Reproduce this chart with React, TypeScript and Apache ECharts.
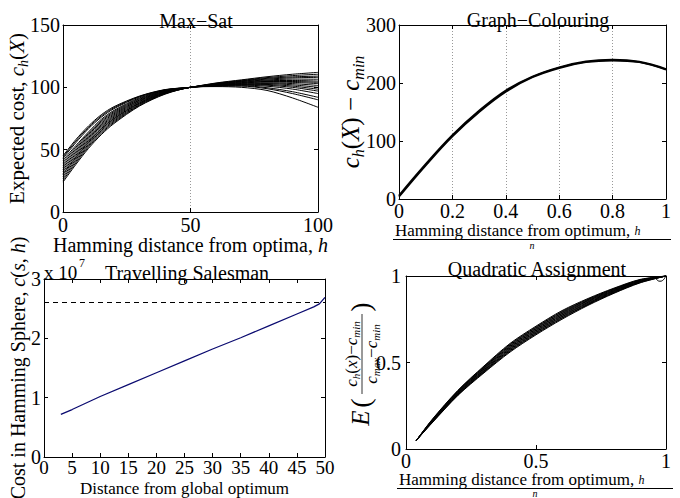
import React, { useEffect, useRef } from 'react';
import * as echarts from 'echarts';

const SERIF = '"Liberation Serif", "Times New Roman", serif';

// ---------- Max-Sat ----------
const maxSatH = [0, 5, 10, 15, 20, 30, 40, 50, 60, 70, 80, 90, 100];
const maxSatCurves = [
  [24, 38, 51, 62, 71, 85, 94.5, 100, 101.1, 101.3, 99.7, 96.5, 92],
  [25.5, 39.3, 52.2, 63.1, 71.9, 85.5, 94.8, 100, 102.6, 104.6, 105.9, 106.6, 106.5],
  [27, 40.6, 53.3, 64.1, 72.8, 86, 95.1, 100, 101.6, 102.7, 103, 102, 100],
  [28.5, 41.9, 54.4, 65.2, 73.7, 86.6, 95.3, 100, 103.2, 105.6, 107.8, 109.4, 110.5],
  [30, 43.2, 55.6, 66.3, 74.6, 87.2, 95.6, 100, 101.4, 102.1, 101.7, 100, 97],
  [31, 44.1, 56.3, 66.9, 75.2, 87.5, 95.8, 100, 102.2, 103.8, 104.7, 104.7, 104],
  [32.5, 45.4, 57.4, 68, 76.1, 88.1, 96.1, 100, 100.6, 100, 97.5, 91.5, 84],
  [34, 46.7, 58.6, 69, 77, 88.7, 96.3, 100, 102.8, 104.9, 106.6, 107.6, 108],
  [35.5, 48, 59.7, 70, 77.9, 89.3, 96.6, 100, 101.8, 103.1, 103.5, 103, 101.5],
  [37, 49.3, 60.8, 71.1, 78.8, 89.8, 96.9, 100, 101.3, 101.8, 100.9, 98.6, 95],
  [38.5, 50.6, 62, 72.2, 79.7, 90.4, 97.1, 100, 103.5, 106, 108.5, 110.5, 112],
  [40, 51.9, 63.1, 73.2, 80.6, 91, 97.4, 100, 102, 103.5, 104.2, 104, 103],
  [41.5, 53.2, 64.2, 74.3, 81.5, 91.6, 97.6, 100, 101, 101, 98.9, 95, 90],
  [43, 55.5, 66.8, 76, 82.9, 92.3, 97.9, 100, 103, 105.2, 107.2, 108.4, 109],
  [44, 56.8, 67.9, 77, 83.7, 92.7, 98, 100, 101.5, 102.4, 102.3, 101, 98.5],
  [45, 58, 69, 78, 84.5, 93, 98.2, 100, 102.4, 104.2, 105.3, 105.5, 105],
];

// ---------- Graph-Colouring ----------
const gcX = [0, 0.1, 0.2, 0.3, 0.4, 0.5, 0.6, 0.7, 0.8, 0.9, 1.0];
const gcCurveA = [4, 58, 108, 150, 185, 210, 226, 236, 239, 236, 223];
const gcCurveB = [6, 60, 110, 152, 187, 211, 227, 237, 240, 236.5, 224];

// ---------- Travelling Salesman ----------
const tspDistance = [3, 5, 10, 15, 20, 25, 30, 35, 40, 45, 48, 49, 50];
const tspCost = [0.72e7, 0.8e7, 1.02e7, 1.22e7, 1.42e7, 1.62e7, 1.82e7, 2.01e7, 2.21e7, 2.41e7, 2.53e7, 2.58e7, 2.69e7];
const tspReference = 2.6e7;

// ---------- Quadratic Assignment ----------
const qapX = [0.04, 0.1, 0.2, 0.3, 0.4, 0.5, 0.6, 0.7, 0.8, 0.9, 1.0];
const qapCurves = [
  [0.05, 0.15, 0.31, 0.44, 0.56, 0.66, 0.75, 0.83, 0.9, 0.96, 1.0],
  [0.05, 0.152, 0.313, 0.444, 0.565, 0.665, 0.755, 0.834, 0.903, 0.962, 1.0],
  [0.05, 0.154, 0.315, 0.447, 0.569, 0.669, 0.759, 0.837, 0.905, 0.964, 1.0],
  [0.05, 0.155, 0.318, 0.451, 0.574, 0.674, 0.764, 0.841, 0.908, 0.965, 1.0],
  [0.05, 0.157, 0.321, 0.454, 0.578, 0.678, 0.768, 0.844, 0.911, 0.967, 1.0],
  [0.05, 0.159, 0.324, 0.458, 0.583, 0.683, 0.773, 0.848, 0.914, 0.969, 1.0],
  [0.05, 0.161, 0.326, 0.462, 0.587, 0.687, 0.777, 0.852, 0.916, 0.971, 1.0],
  [0.05, 0.163, 0.329, 0.466, 0.592, 0.692, 0.782, 0.856, 0.919, 0.973, 1.0],
  [0.05, 0.165, 0.332, 0.469, 0.596, 0.696, 0.786, 0.859, 0.922, 0.975, 1.0],
  [0.05, 0.166, 0.335, 0.473, 0.601, 0.701, 0.791, 0.863, 0.925, 0.976, 1.0],
  [0.05, 0.168, 0.337, 0.476, 0.605, 0.705, 0.795, 0.866, 0.927, 0.978, 1.0],
  [0.05, 0.17, 0.34, 0.48, 0.61, 0.71, 0.8, 0.87, 0.93, 0.98, 1.0],
];
const qapLoopX = [0.955, 0.965, 0.977, 0.99, 0.998];
const qapLoopY = [1.0, 0.978, 0.97, 0.978, 0.998];

const TICK_FONT = 20;
const fmtNum = (v: number) => String(Number(v.toFixed(2)));

const tickLabel = (formatter?: (v: number) => string, margin = 3, size = TICK_FONT) => ({
  color: '#000',
  fontFamily: SERIF,
  fontSize: size,
  lineHeight: size,
  margin,
  showMinLabel: true,
  showMaxLabel: true,
  formatter: formatter || fmtNum,
});

const baseAxis = {
  type: 'value' as const,
  nameMoveOverlap: false,
  axisLine: { show: true, onZero: false, lineStyle: { color: '#000', width: 1 } },
  axisTick: { show: true, inside: true, length: 4, lineStyle: { color: '#000', width: 1 } },
};

function xAxes(gridIndex: number, min: number, max: number, interval: number, extra: any = {}, split = false) {
  return [
    {
      ...baseAxis,
      gridIndex,
      position: 'bottom',
      min,
      max,
      interval,
      axisLabel: tickLabel(extra.formatter, extra.margin ?? 3, extra.size ?? TICK_FONT),
      splitLine: split
        ? { show: true, lineStyle: { color: '#999', type: [1, 2], width: 1 } }
        : { show: false },
      ...extra.axis,
    },
    {
      ...baseAxis,
      gridIndex,
      position: 'top',
      min,
      max,
      interval,
      axisLabel: { show: false },
      splitLine: { show: false },
    },
  ];
}

function yAxes(gridIndex: number, min: number, max: number, interval: number, extra: any = {}) {
  return [
    {
      ...baseAxis,
      gridIndex,
      position: 'left',
      min,
      max,
      interval,
      axisLabel: tickLabel(extra.formatter, extra.margin ?? 3),
      splitLine: { show: false },
      ...extra.axis,
    },
    {
      ...baseAxis,
      gridIndex,
      position: 'right',
      min,
      max,
      interval,
      axisLabel: { show: false },
      splitLine: { show: false },
    },
  ];
}

// rich styles: main text and a subscript that sits at the bottom of the line box
const richBase = (size: number, sub: number, lh = size + 3) => ({
  t: { fontFamily: SERIF, fontSize: size, lineHeight: lh, verticalAlign: 'top', color: '#000' },
  i: { fontFamily: SERIF, fontSize: size, lineHeight: lh, verticalAlign: 'top', fontStyle: 'italic', color: '#000' },
  s: {
    fontFamily: SERIF,
    fontSize: sub,
    lineHeight: sub,
    verticalAlign: 'top',
    fontStyle: 'italic',
    color: '#000',
    padding: [Math.max(0, lh - sub), 0, 0, 0],
  },
});

const lineSeries = (x: number[], y: number[], axisIdx: number, color = '#000', width = 1, smooth: number | boolean = 0.3) => ({
  type: 'line',
  xAxisIndex: axisIdx,
  yAxisIndex: axisIdx,
  data: x.map((v, j) => [v, y[j]]),
  showSymbol: false,
  symbol: 'none',
  smooth,
  silent: true,
  lineStyle: { color, width },
});

function fractionLabel(x0: number, x1: number, textY: number, lineY: number, nY: number) {
  return [
    {
      type: 'text',
      x: x0 + 2,
      y: textY,
      style: {
        text: '{t|Hamming distance from optimum, }{h|h}',
        rich: {
          t: { fontFamily: SERIF, fontSize: 17, color: '#000' },
          h: { fontFamily: SERIF, fontSize: 12, fontStyle: 'italic', color: '#000' },
        },
        align: 'left',
        verticalAlign: 'middle',
      },
    },
    {
      type: 'line',
      shape: { x1: x0, y1: lineY, x2: x1, y2: lineY },
      style: { stroke: '#000', lineWidth: 1 },
    },
    {
      type: 'text',
      x: (x0 + x1) / 2,
      y: nY,
      style: {
        text: 'n',
        fontFamily: SERIF,
        fontSize: 10,
        fontStyle: 'italic',
        fill: '#000',
        align: 'center',
        verticalAlign: 'middle',
      },
    },
  ];
}

export default function App() {
  const ref = useRef<HTMLDivElement>(null);

  useEffect(() => {
    if (!ref.current) return;
    const chart = echarts.init(ref.current, undefined, { renderer: 'svg' });

    const series: any[] = [];
    maxSatCurves.forEach((c) => series.push(lineSeries(maxSatH, c, 0, '#000', 1, 0.3)));
    series.push(lineSeries(gcX, gcCurveA, 2, '#000', 2, 0.4));
    series.push(lineSeries(gcX, gcCurveB, 2, '#000', 2, 0.4));
    series.push({
      ...lineSeries(tspDistance, tspCost, 4, '#0b0b70', 1.3, false),
      markLine: {
        silent: true,
        symbol: ['none', 'none'],
        label: { show: false },
        lineStyle: { color: '#000', type: [5, 4], width: 1 },
        data: [{ yAxis: tspReference }],
      },
    });
    qapCurves.forEach((c) => series.push(lineSeries(qapX, c, 6, '#000', 1, 0.3)));
    series.push(lineSeries(qapLoopX, qapLoopY, 6, '#000', 1, 0.5));

    const titleStyle = { fontFamily: SERIF, fontSize: 20, fontWeight: 'normal', color: '#000' };

    const option: any = {
      animation: false,
      backgroundColor: '#fff',
      title: [
        { text: 'Max\u2212Sat', left: 191, top: 6, textAlign: 'center', textStyle: titleStyle },
        { text: 'Graph\u2212Colouring', left: 533, top: 5, textAlign: 'center', textStyle: titleStyle },
        { text: 'Travelling Salesman', left: 182, top: 258, textAlign: 'center', textStyle: titleStyle },
        { text: 'Quadratic Assignment', left: 532, top: 254, textAlign: 'center', textStyle: titleStyle },
      ],
      grid: [
        { left: 63, top: 25, width: 255, height: 187, outerBoundsMode: 'none', containLabel: false },
        { left: 399, top: 25, width: 267, height: 174, outerBoundsMode: 'none', containLabel: false },
        { left: 44, top: 279, width: 281, height: 178, outerBoundsMode: 'none', containLabel: false },
        { left: 406, top: 276, width: 260, height: 173, outerBoundsMode: 'none', containLabel: false },
      ],
      xAxis: [
        ...xAxes(0, 0, 100, 50, {
          axis: {
            name: '{t|Hamming distance from optima, }{i|h}',
            nameLocation: 'middle',
            nameGap: 23,
            nameTextStyle: { rich: richBase(20, 13, 20) },
          },
        }, true),
        ...xAxes(1, 0, 1, 0.2, { margin: 2 }, true),
        ...xAxes(2, 0, 50, 5, {
          margin: 1,
          size: 19,
          axis: {
            name: 'Distance from global optimum',
            nameLocation: 'middle',
            nameGap: 22.5,
            nameTextStyle: { fontFamily: SERIF, fontSize: 17, lineHeight: 17, color: '#000' },
          },
        }),
        ...xAxes(3, 0, 1, 0.5, { margin: 2 }),
      ],
      yAxis: [
        ...yAxes(0, 0, 150, 50, {
          axis: {
            name: '{t|Expected cost, }{i|c}{s|h}{t|(}{i|X}{t|)}',
            nameLocation: 'middle',
            nameRotate: 90,
            nameGap: 33,
            nameTextStyle: { rich: richBase(21, 14, 24) },
          },
        }),
        ...yAxes(1, 0, 300, 100, {
          axis: {
            name: '{i|c}{s|h}{t|(}{i|X}{t|) \u2212 }{i|c}{s|min}',
            nameLocation: 'middle',
            nameRotate: 90,
            nameGap: 33,
            nameTextStyle: { rich: richBase(25, 16, 28) },
          },
        }),
        ...yAxes(2, 0, 3e7, 1e7, {
          formatter: (v: number) => String(Math.round(v / 1e7)),
          axis: {
            name: '{t|Cost in Hamming Sphere, }{i|c}{t|(}{i|s}{t|, }{i|h}{t|)}',
            nameLocation: 'middle',
            nameRotate: 90,
            nameGap: 13,
            nameTextStyle: { rich: richBase(20, 13, 23) },
          },
        }),
        ...yAxes(3, 0, 1, 0.5, { margin: 5 }),
      ],
      series,
      graphic: [
        {
          type: 'text',
          x: 44,
          y: 272,
          style: { text: 'x 10', fontFamily: SERIF, fontSize: 19, fill: '#000', align: 'left', verticalAlign: 'middle' },
        },
        {
          type: 'text',
          x: 79,
          y: 263,
          style: { text: '7', fontFamily: SERIF, fontSize: 12, fill: '#000', align: 'left', verticalAlign: 'middle' },
        },
        ...fractionLabel(393, 671, 230.5, 239.5, 245.5),
        ...fractionLabel(397, 673, 479.5, 488.5, 493),
        {
          type: 'group',
          x: 362,
          y: 368,
          rotation: Math.PI / 2,
          children: [
            {
              type: 'text',
              x: -50,
              y: -2,
              style: { text: 'E', fontFamily: SERIF, fontSize: 25, fontStyle: 'italic', fill: '#000', align: 'center', verticalAlign: 'middle' },
            },
            {
              type: 'text',
              x: -35,
              y: -2,
              style: { text: '(', fontFamily: SERIF, fontSize: 28, fill: '#000', align: 'center', verticalAlign: 'middle' },
            },
            {
              type: 'text',
              x: 14,
              y: -10,
              style: {
                text: '{i|c}{s|h}{t|(}{i|x}{t|)\u2212}{i|c}{s|min}',
                rich: richBase(17, 11, 18),
                align: 'center',
                verticalAlign: 'middle',
              },
            },
            {
              type: 'line',
              shape: { x1: -26, y1: 0, x2: 54, y2: 0 },
              style: { stroke: '#000', lineWidth: 0.8 },
            },
            {
              type: 'text',
              x: 14,
              y: 10,
              style: {
                text: '{i|c}{s|max}{t|\u2212}{i|c}{s|min}',
                rich: richBase(17, 11, 18),
                align: 'center',
                verticalAlign: 'middle',
              },
            },
            {
              type: 'text',
              x: 61,
              y: -2,
              style: { text: ')', fontFamily: SERIF, fontSize: 28, fill: '#000', align: 'center', verticalAlign: 'middle' },
            },
          ],
        },
      ],
    };

    chart.setOption(option);
    return () => chart.dispose();
  }, []);

  return (
    <div
      ref={ref}
      style={{ position: 'absolute', left: 0, top: 0, width: 680, height: 498 }}
    />
  );
}
